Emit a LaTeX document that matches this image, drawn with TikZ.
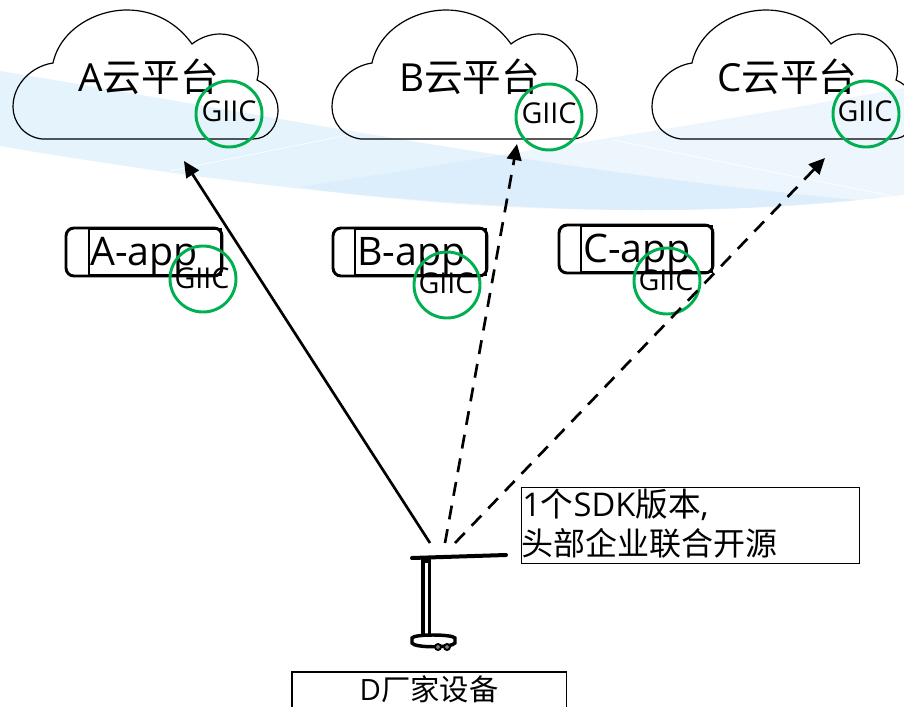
\documentclass[tikz,border=0pt]{standalone}
\usepackage{fontspec}
\setmainfont{Open Sans}
\newfontfamily\cjk{Noto Sans CJK SC}
\usetikzlibrary{arrows.meta}
\definecolor{swA}{HTML}{E5F3FC}
\definecolor{swB}{HTML}{EEF6FD}
\definecolor{swC}{HTML}{DCEEFB}
\definecolor{giic}{HTML}{00B050}
\tikzset{
  x=0.75pt,y=-0.75pt,
  cloudline/.style={draw=black,line width=0.9pt},
  plat/.style={font=\fontsize{29pt}{32pt}\selectfont,anchor=base west,inner sep=0pt},
  appfont/.style={font=\fontsize{29.5pt}{32pt}\selectfont,anchor=base west,inner sep=0pt},
  giictext/.style={font=\fontsize{21.5pt}{24pt}\selectfont,inner sep=0pt},
  ring/.style={circle,draw=giic,line width=2.2pt,minimum size=49.5pt,inner sep=0pt},
  appouter/.style={draw=black,line width=2.2pt,rounded corners=6pt},
  appinner/.style={draw=black,line width=0.9pt},
  solidarrow/.style={draw=black,line width=2pt,-{Triangle[length=12pt,width=11pt]}},
  dasharrow/.style={solidarrow,dash pattern=on 10.5pt off 7.5pt},
  textbox/.style={draw=black,line width=1pt,inner sep=0pt},
  lampline/.style={draw=black,line width=2.6pt,line cap=round}
}
\newcommand{\cloudat}[1]{%
  \begin{scope}[shift={(#1,0)}]
    \path[cloudline] (42,139)
      .. controls (24,137) and (13,122) .. (13,107)
      .. controls (13,84) and (32,66) .. (53,63)
      .. controls (60,30) and (95,10) .. (127,10)
      .. controls (155,10) and (178,24) .. (192,44)
      .. controls (201,37) and (211,34) .. (220,34)
      .. controls (245,34) and (264,58) .. (257,80)
      .. controls (270,86) and (278,97) .. (278,110)
      .. controls (278,126) and (268,139) .. (253,139)
      -- cycle;
  \end{scope}}
\begin{document}
\begin{tikzpicture}
\clip (0,0) rectangle (904,707);
\fill[white] (0,0) rectangle (904,707);
% band
\def\swooshA{(0,71) .. controls (250,112) and (550,172) .. (857,200)
  .. controls (780,208) and (700,210) .. (640,210)
  .. controls (420,208) and (200,180) .. (0,146) -- cycle}
\def\swooshB{(904,88) .. controls (700,125) and (500,155) .. (300,187)
  .. controls (420,205) and (540,210) .. (640,210)
  .. controls (740,210) and (830,204) .. (904,195) -- cycle}
\fill[swB] \swooshB;
\fill[swA] \swooshA;
\begin{scope}
  \clip \swooshB;
  \fill[swC] \swooshA;
\end{scope}
\draw[white,line width=0.5pt] (170,171) -- (363,132);
\draw[white,line width=0.5pt] (613,140) -- (897,197);
% clouds
\cloudat{0}
\cloudat{319}
\cloudat{639}
\node[plat] (pa) at (78,91) {A{\cjk 云平台}};
\node[plat] (pb) at (399,91) {B{\cjk 云平台}};
\node[plat] (pc) at (717,91) {C{\cjk 云平台}};
\node[ring] (ra) at (229,114) {};
\node[ring] (rb) at (549,117) {};
\node[ring] (rc) at (866,114) {};
\node[giictext] (ga) at (229,111) {GIIC};
\node[giictext] (gb) at (549,113) {GIIC};
\node[giictext] (gc) at (865,111) {GIIC};
% apps
\draw[appouter] (66,228) rectangle (222,276);
\draw[appouter] (333,228) rectangle (487,276);
\draw[appouter] (559,225) rectangle (713,273);
\draw[appinner] (89,229) rectangle (221,275);
\draw[appinner] (355,229) rectangle (486,275);
\draw[appinner] (581,226) rectangle (712,272);
\node[appfont] (aa) at (90,265) {A-app};
\node[appfont] (ab) at (357,265) {B-app};
\node[appfont] (ac) at (583,262) {C-app};
\node[ring] (raa) at (203,279) {};
\node[ring] (rab) at (447,285) {};
\node[ring] (rac) at (667,281) {};
\node[giictext] (gaa) at (202,278) {GIIC};
\node[giictext] (gab) at (446,283) {GIIC};
\node[giictext] (gac) at (666,280) {GIIC};
% boxes
\node[textbox,minimum width=253.5pt,minimum height=57pt,anchor=north west] (sdk) at (521,487) {};
\node[anchor=base west,inner sep=0pt,font=\fontsize{24.5pt}{26pt}\selectfont] (sdk1) at (522,516) {1{\cjk 个}SDK{\cjk 版本}, };
\node[anchor=base west,inner sep=0pt,font=\fontsize{24pt}{26pt}\cjk\selectfont] (sdk2) at (521,555) {头部企业联合开源};
\draw[draw=black,line width=1pt] (292,710) -- (292,672) -- (566.5,672) -- (566.5,710);
\node[anchor=base,inner sep=0pt,font=\fontsize{22pt}{24pt}\selectfont] (dtext) at (429,700) {D{\cjk 厂家设备}};
% lamp
\coordinate (lampA) at (430,543);
\coordinate (lampB) at (445,543);
\coordinate (lampC) at (455,543);
\coordinate (tipA) at (184,161);
\coordinate (tipB) at (517,144);
\coordinate (tipC) at (825,158);
\draw[lampline,line width=3pt] (412,558) -- (506,555);
\draw[lampline] (423,559) -- (423,635);
\draw[lampline] (429.5,559) -- (429.5,635);
\fill (421,557) rectangle (431,563);
\draw[lampline] (412,638) .. controls (414,634) and (452,634) .. (455,638)
  -- (455,643) .. controls (452,648) and (414,648) .. (412,643) -- cycle;
\draw[draw=black,line width=1.4pt,fill=black!50] (438,647) circle (3);
\draw[draw=black,line width=1.4pt,fill=black!50] (447,647) circle (3);
% arrows
\draw[solidarrow] (lampA) -- (tipA);
\draw[dasharrow] (lampB) -- (tipB);
\draw[dasharrow] (lampC) -- (tipC);
\end{tikzpicture}
\end{document}
